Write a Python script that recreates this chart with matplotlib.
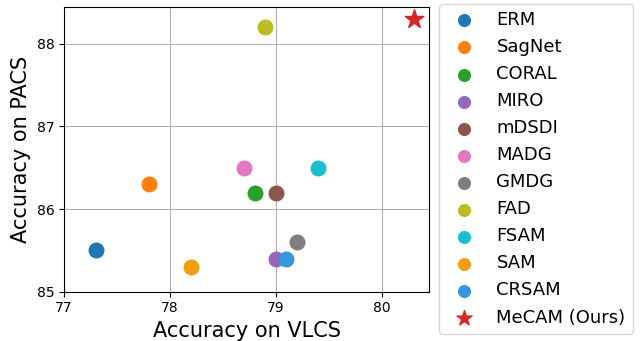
import matplotlib.pyplot as plt

methods = ['ERM', 'SagNet', 'CORAL', 'MIRO', 'mDSDI', 'MADG', 'GMDG',
           'FAD', 'FSAM', 'SAM', 'CRSAM', 'MeCAM (Ours)']
vlcs = [77.3, 77.8, 78.8, 79.0, 79.0, 78.7, 79.2, 78.9, 79.4, 78.2, 79.1, 80.3]
pacs = [85.5, 86.3, 86.2, 85.4, 86.2, 86.5, 85.6, 88.2, 86.5, 85.3, 85.4, 88.3]
colors = ['tab:blue', 'tab:orange', 'tab:green', 'tab:purple', 'tab:brown',
          'tab:pink', 'tab:gray', 'tab:olive', 'tab:cyan', '#f39c12',
          '#3498db', 'tab:red']

fig, ax = plt.subplots(figsize=(6.41, 3.41), dpi=100)

for name, x, y, c in zip(methods, vlcs, pacs, colors):
    if name.startswith('MeCAM'):
        ax.scatter(x, y, s=200, marker='*', color=c, label=name, zorder=3)
    else:
        ax.scatter(x, y, s=110, color=c, label=name, zorder=3)

ax.set_xlim(77, 80.45)
ax.set_ylim(85, 88.45)
ax.set_xticks([77, 78, 79, 80])
ax.set_yticks([85, 86, 87, 88])
ax.grid(True, color='#b0b0b0', linewidth=0.8)
ax.set_axisbelow(True)
ax.set_xlabel('Accuracy on VLCS', fontsize=15)
ax.set_ylabel('Accuracy on PACS', fontsize=15)
ax.tick_params(labelsize=10)

ax.legend(loc='upper left', bbox_to_anchor=(1.025, 1.01), fontsize=13,
          labelspacing=0.5, handletextpad=0.8, markerscale=0.8,
          borderaxespad=0)

plt.subplots_adjust(left=0.10, right=0.67, top=0.98, bottom=0.145)
plt.savefig('out.png', dpi=100)
